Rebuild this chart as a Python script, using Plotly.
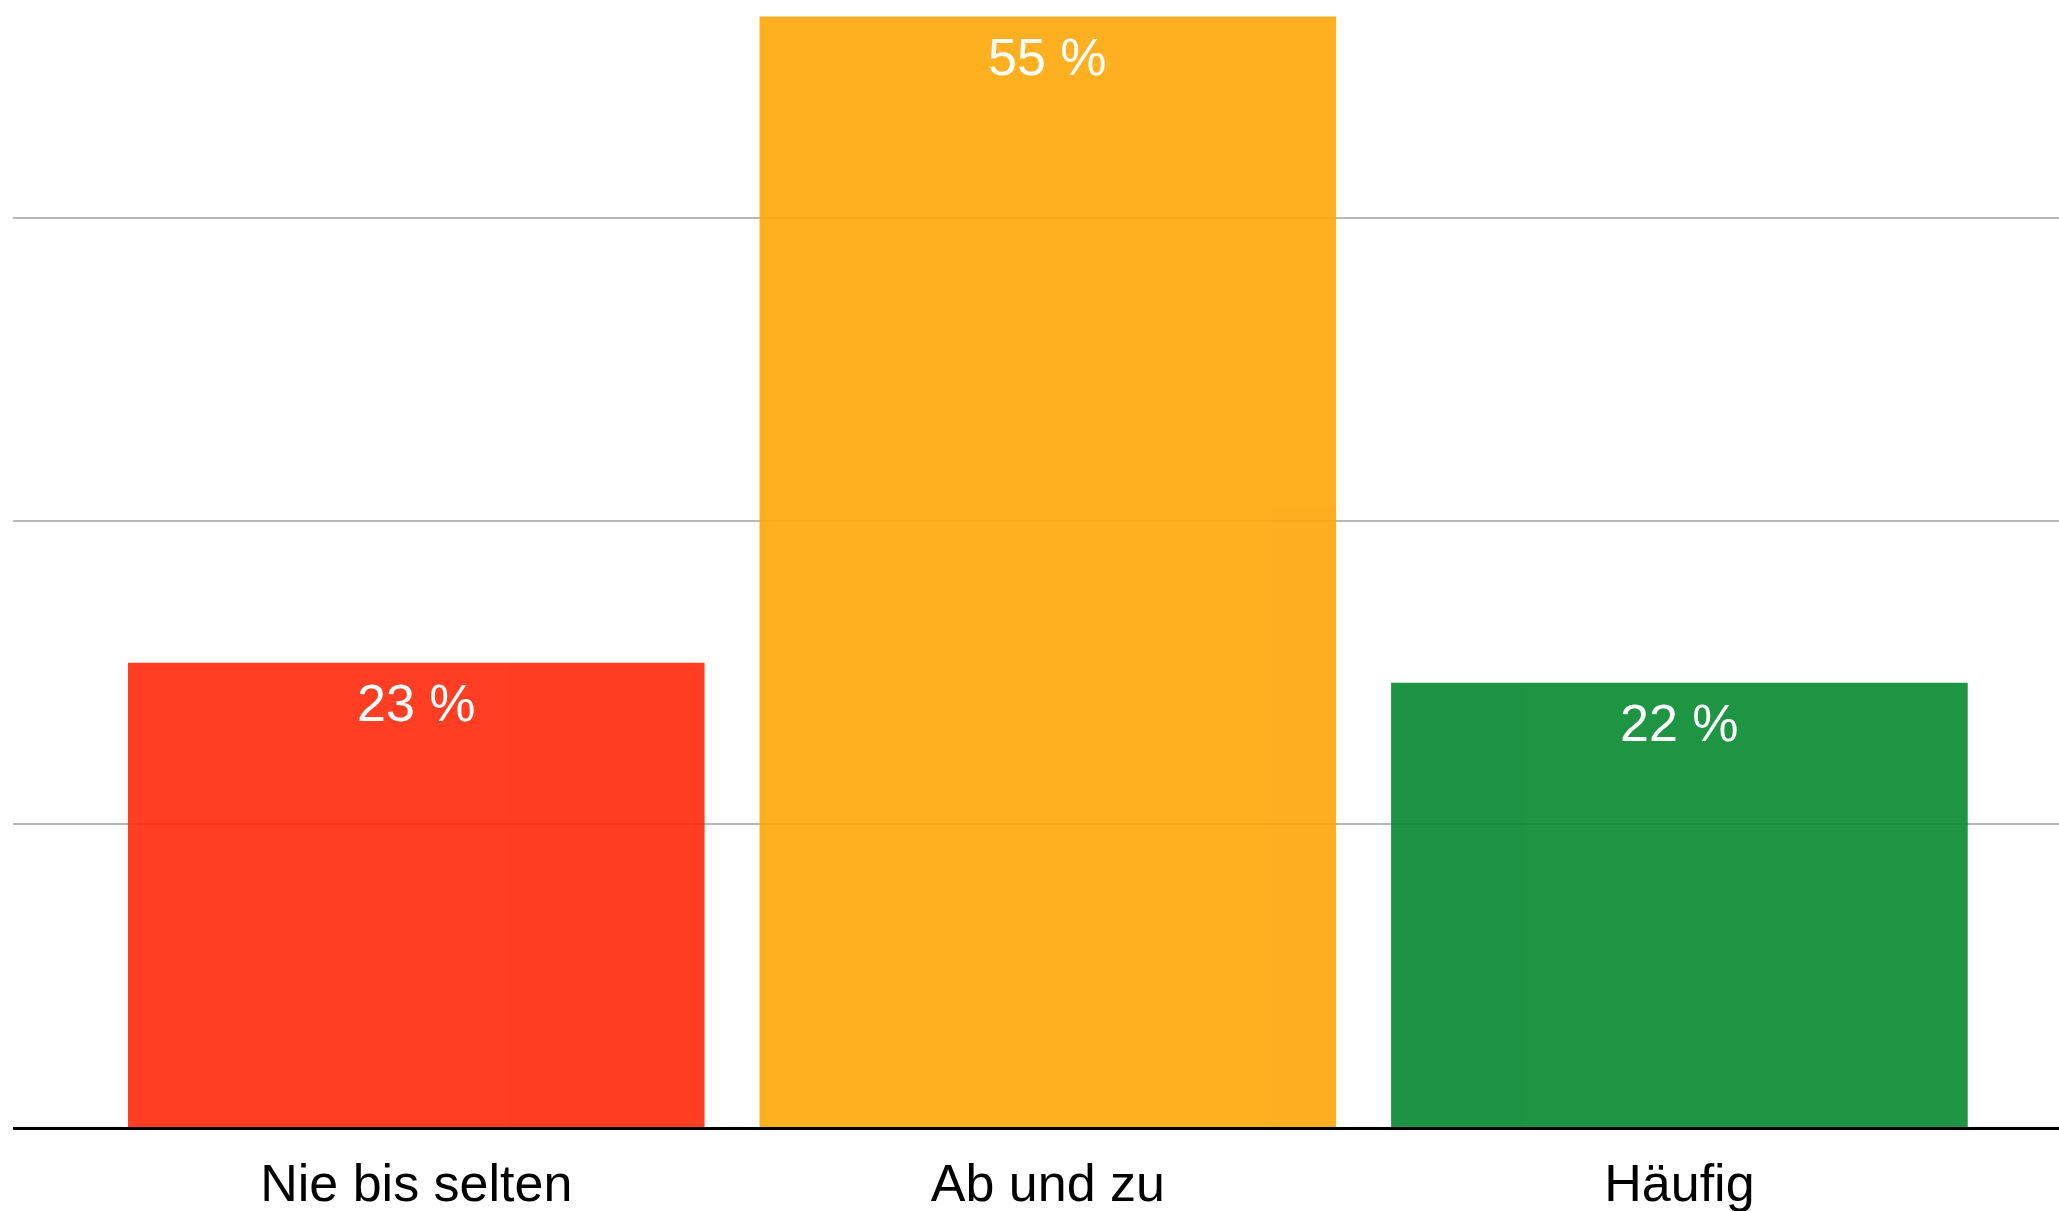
import plotly.graph_objects as go

categories = ["Nie bis selten", "Ab und zu", "Häufig"]
values = [23, 55, 22]
value_labels = ["23 %", "55 %", "22 %"]
bar_colors = ["rgb(255,41,12)", "rgb(254,167,9)", "rgb(4,137,47)"]

FONT = "Liberation Sans, Arial, Helvetica, sans-serif"

fig = go.Figure()
fig.add_trace(go.Bar(
    x=list(range(len(categories))),
    y=values,
    width=0.913,
    marker=dict(color=bar_colors, line=dict(width=0)),
    opacity=0.9,
    hoverinfo="skip",
))

for i, (v, t) in enumerate(zip(values, value_labels)):
    fig.add_annotation(
        x=i, y=v, text=t, showarrow=False,
        yanchor="middle", yshift=-40,
        font=dict(family=FONT, size=52, color="white"),
    )

fig.update_layout(
    width=2059, height=1211,
    margin=dict(l=13, r=0, t=0, b=84),
    paper_bgcolor="white", plot_bgcolor="white",
    showlegend=False,
    font=dict(family=FONT, size=52, color="black"),
    xaxis=dict(
        range=[-0.6385, 2.601],
        tickmode="array",
        tickvals=list(range(len(categories))),
        ticktext=categories,
        showgrid=False, zeroline=False,
        showline=True, linecolor="black", linewidth=3,
        ticks="", ticklabelstandoff=9,
        tickfont=dict(family=FONT, size=52, color="black"),
        fixedrange=True,
    ),
    yaxis=dict(
        range=[0, 55.82],
        tickvals=[15, 30, 45],
        showticklabels=False,
        showgrid=True, gridcolor="#b8b8b8", gridwidth=2,
        zeroline=False, showline=False,
        fixedrange=True,
    ),
)

fig.write_html(
    "out.html",
    config={"displayModeBar": False},
    post_script="document.body.style.margin='0';document.body.style.overflow='hidden';",
)
